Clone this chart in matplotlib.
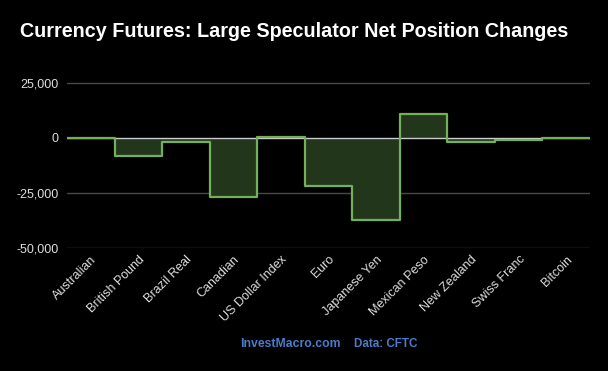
import matplotlib
matplotlib.use("Agg")
import matplotlib.pyplot as plt
import numpy as np

categories = ["Australian", "British Pound", "Brazil Real", "Canadian", "US Dollar Index",
              "Euro", "Japanese Yen", "Mexican Peso", "New Zealand", "Swiss Franc", "Bitcoin"]
values = [0, -8200, -1700, -26700, 600, -21800, -37400, 10900, -1700, -1100, -100]
yticks = [25000, 0, -25000, -50000]
ytick_labels = ["25,000", "0", "-25,000", "-50,000"]

plt.rcParams['font.family'] = ['Liberation Sans', 'DejaVu Sans']

fig = plt.figure(figsize=(6.08, 3.71), dpi=100, facecolor='black')
ax = fig.add_axes([67/608, 1-248/371, (590-67)/608, (248-72)/371])
ax.set_facecolor('black')

n = len(categories)
edges = np.arange(n + 1) - 0.5
ax.set_xlim(edges[0], edges[-1])
ax.set_ylim(-50000, 30000)

for t in yticks:
    if t == 0:
        ax.axhline(t, color='#cccccc', lw=1.0, zorder=2.5)
    else:
        ax.axhline(t, color='#4a4a4a', lw=1.0, zorder=1)

ax.stairs(values, edges, baseline=0, fill=True, color='#22361c', zorder=2)
ax.stairs(values, edges, baseline=None, color='#74b05a', lw=1.6, zorder=3,
          joinstyle='round')

ax.set_yticks(yticks)
ax.set_yticklabels(ytick_labels, color='#dddddd', fontsize=9)
ax.set_xticks(np.arange(n))
ax.set_xticklabels(categories, rotation=45, ha='right', rotation_mode='anchor',
                   color='#dddddd', fontsize=9)
ax.tick_params(length=0, pad=6)
ax.tick_params(axis='x', pad=4)
for s in ax.spines.values():
    s.set_visible(False)

fig.text(20/608, 1-37/371, "Currency Futures: Large Speculator Net Position Changes",
         color='white', fontsize=14.2, fontweight='bold', ha='left', va='baseline')
fig.text(240/608, 1-344/371, "InvestMacro.com", color='#4a7ccc', fontsize=8.8,
         fontweight='bold', ha='left', va='center')
fig.text(354/608, 1-344/371, "Data: CFTC", color='#4a7ccc', fontsize=8.4,
         fontweight='bold', ha='left', va='center')

fig.savefig('out.png', dpi=100, facecolor='black')
